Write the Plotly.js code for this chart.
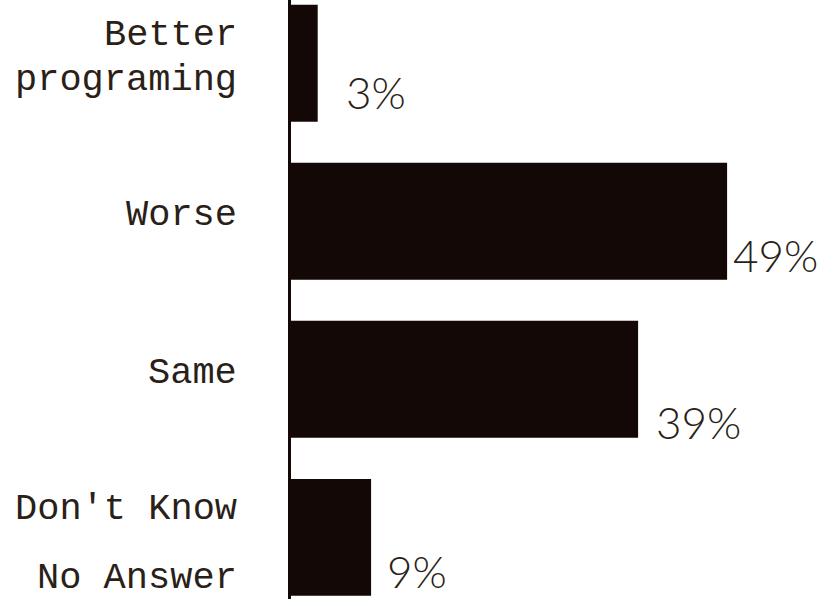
<!DOCTYPE html>
<html>
<head>
<meta charset="utf-8">
<script src="https://cdn.plot.ly/plotly-3.0.1.min.js"></script>
<style>html,body{margin:0;padding:0;background:#fff;}#chart{width:830px;height:599px;}</style>
</head>
<body>
<div id="chart"></div>
<script>
// ---- data ----
var categories = ["Better programing", "Worse", "Same", "Don't Know / No Answer"];
var values = [3, 49, 39, 9];
var valueLabels = ["3%", "49%", "39%", "9%"];
// label lines per category (drawn as text left of the axis)
var labelLines = [["Better", "programing"], ["Worse"], ["Same"], ["Don't Know", "No Answer"]];

// ---- styles ----
var barColor = "#140806";
var textColor = "#2b1f19";
var labelFont = {family: "'Courier New', 'Liberation Mono', monospace", size: 37, color: textColor};
var pctFont = {family: "Lato, 'Noto Sans', sans-serif", size: 44, color: textColor, weight: 300};
var lineShifts = [[28, -17], [6], [6], [28, -41]];
var pctShift = [[26, -57], [4, -62], [16, -71], [14, -62]];

var annotations = [];
categories.forEach(function (c, i) {
  labelLines[i].forEach(function (t, j) {
    annotations.push({
      xref: "paper", yref: "y", x: 0, y: c, text: t, showarrow: false,
      xanchor: "right", yanchor: "middle", xshift: -52, yshift: lineShifts[i][j],
      font: labelFont
    });
  });
  annotations.push({
    xref: "x", yref: "y", x: values[i], y: c, text: valueLabels[i], showarrow: false,
    xanchor: "left", yanchor: "bottom", xshift: pctShift[i][0], yshift: pctShift[i][1],
    font: pctFont
  });
});

var trace = {
  type: "bar", orientation: "h",
  x: values, y: categories,
  marker: {color: barColor, line: {width: 0}},
  width: 0.74,
  hoverinfo: "none"
};

var layout = {
  width: 830, height: 599,
  margin: {l: 291, r: 5, t: 0, b: 0, pad: 0},
  paper_bgcolor: "#ffffff", plot_bgcolor: "#ffffff",
  showlegend: false,
  xaxis: {range: [0, 60], showgrid: false, zeroline: false, showticklabels: false, ticks: "", showline: false, fixedrange: true},
  yaxis: {type: "category", categoryorder: "array", categoryarray: categories,
          range: [3.39, -0.40], showgrid: false, zeroline: false, showticklabels: false,
          ticks: "", showline: true, linecolor: "#140806", linewidth: 3, fixedrange: true},
  annotations: annotations
};

Plotly.newPlot("chart", [trace], layout, {displayModeBar: false, staticPlot: true});
</script>
</body>
</html>
